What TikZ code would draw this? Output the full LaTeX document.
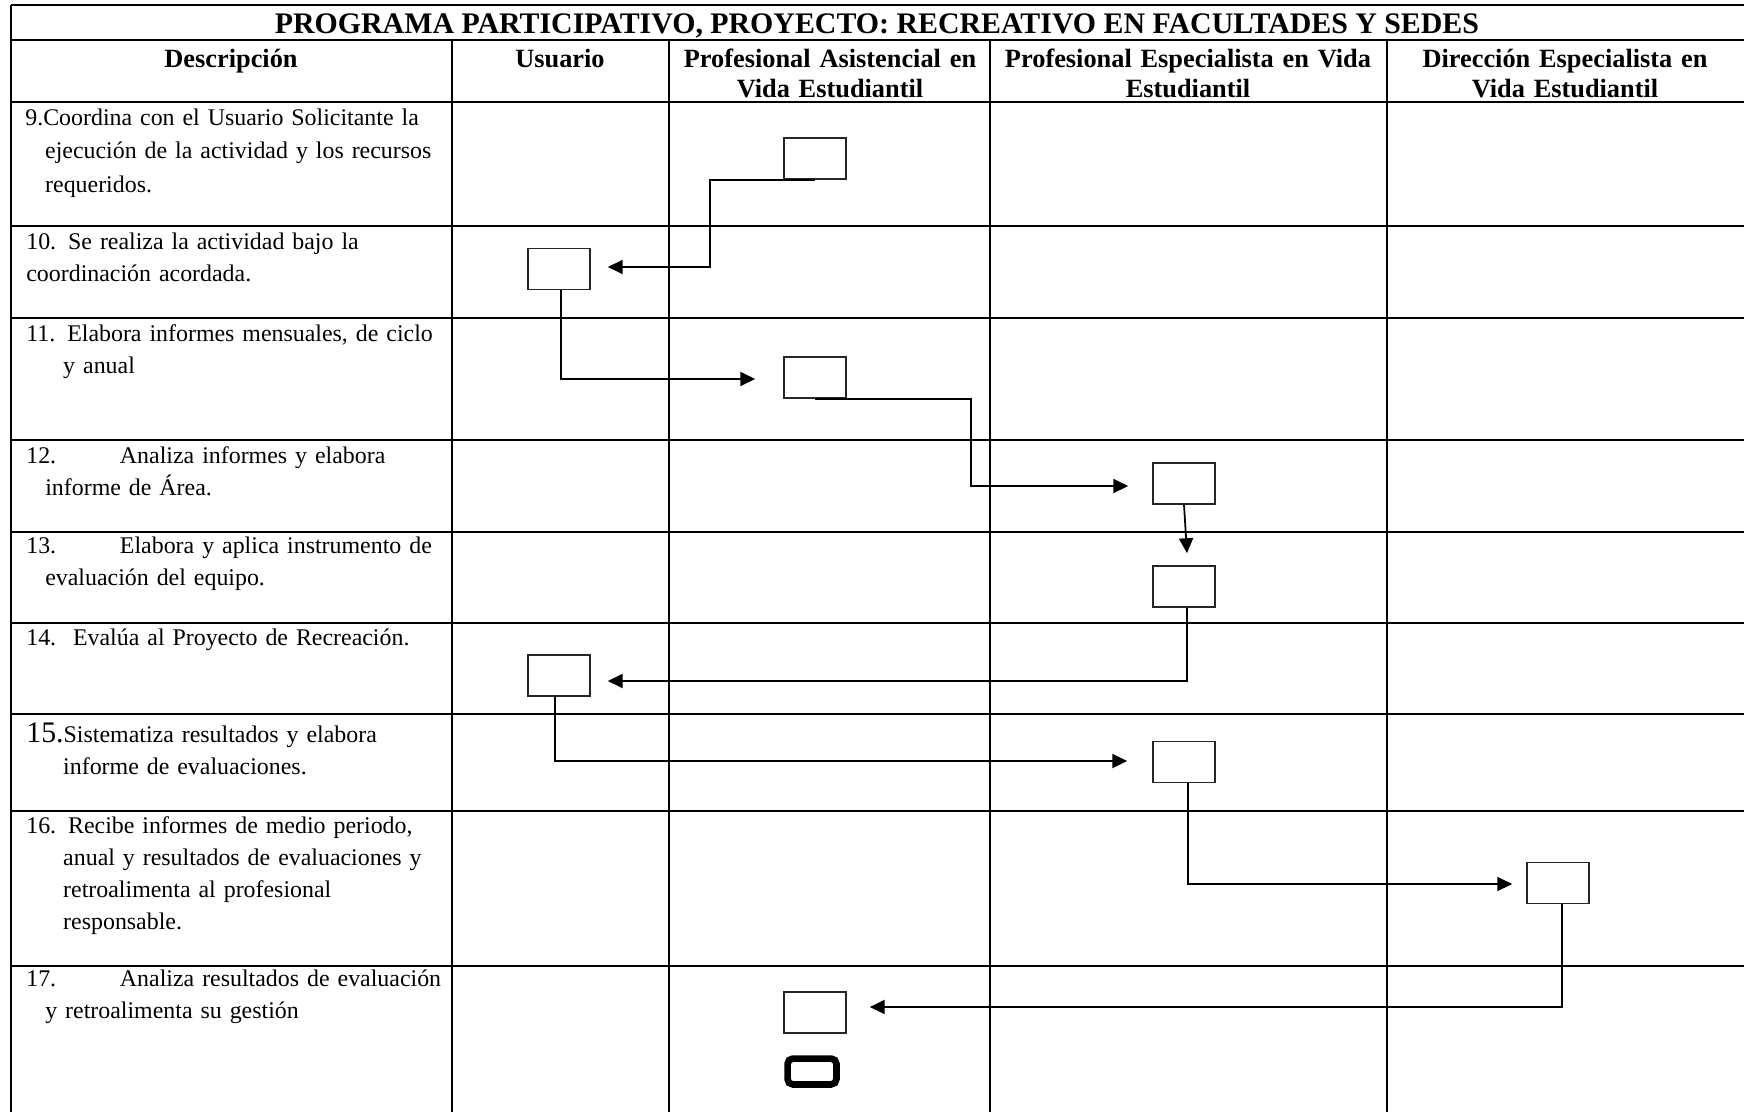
\documentclass[tikz,border=0pt]{standalone}
\usepackage{fontspec}
\setmainfont{Liberation Serif}
\usetikzlibrary{arrows.meta,calc}

\begin{document}
\begin{tikzpicture}[x=0.02cm,y=-0.02cm,>={Triangle[length=8.5pt,width=8pt]},
  grid/.style={line width=1.1pt},
  actbox/.style={draw=black!85,line width=0.8pt,minimum width=35.4pt,minimum height=23.5pt,inner sep=0pt},
  endbox/.style={draw,line width=3.8pt,rounded corners=3pt,minimum width=27.8pt,minimum height=14.7pt,inner sep=0pt},
  flow/.style={->,line width=1pt},
  head/.style={anchor=base,font=\fontsize{15}{17.6}\selectfont\bfseries,text width=9cm,align=center,inner sep=0pt},
  desc/.style={anchor=base west,font=\fontsize{13.6}{18.4}\selectfont,text width=10cm,align=left,inner sep=0pt}]
  \useasboundingbox (0,0) rectangle (1744,1112);

  % table
  \foreach \y in {5,40,102,226,318,440,532,623,714,811,966}
    \draw[grid] (11,\y) -- (1744,\y);
  \draw[grid] (11,5) -- (11,1112);
  \foreach \x in {452,669,990,1387}
    \draw[grid] (\x,40) -- (\x,1112);

  % headings
  \node[anchor=base,inner sep=0pt,font=\fontsize{17}{18}\selectfont\bfseries] (title) at (877,33)
    {PROGRAMA PARTICIPATIVO, PROYECTO: RECREATIVO EN FACULTADES Y SEDES};
  \node[head] (hdesc) at (231,67) {Descripción};
  \node[head] (husu) at (560,67) {Usuario};
  \node[head] (hasis) at (830,67) {Profesional Asistencial en\\Vida Estudiantil};
  \node[head] (hesp) at (1188,67) {Profesional Especialista en Vida\\Estudiantil};
  \node[head] (hdir) at (1565,67) {Dirección Especialista en\\Vida Estudiantil};

  % descriptions
  \node[desc,font=\fontsize{13.6}{19.2}\selectfont] (d9) at (25,125) {9.Coordina con el Usuario Solicitante la\\
    \hspace*{11.3pt}ejecución de la actividad y los recursos\\
    \hspace*{11.3pt}requeridos.};
  \node[desc] (d10) at (26,249) {10. Se realiza la actividad bajo la\\coordinación acordada.};
  \node[desc] (d11) at (26,341) {11. Elabora informes mensuales, de ciclo\\
    \hspace*{21pt}y anual};
  \node[desc] (d12) at (26,463) {\makebox[53.3pt][l]{12.}Analiza informes y elabora\\
    \hspace*{10.8pt}informe de Área.};
  \node[desc] (d13) at (26,553) {\makebox[53.3pt][l]{13.}Elabora y aplica instrumento de\\
    \hspace*{10.8pt}evaluación del equipo.};
  \node[desc] (d14) at (26,645) {\makebox[26.6pt][l]{14.}Evalúa al Proyecto de Recreación.};
  \node[desc] (d15) at (26,742) {{\fontsize{17}{17}\selectfont 15.}Sistematiza resultados y elabora\\
    \hspace*{21pt}informe de evaluaciones.};
  \node[desc] (d16) at (26,833) {16. Recibe informes de medio periodo,\\
    \hspace*{21pt}anual y resultados de evaluaciones y\\
    \hspace*{21pt}retroalimenta al profesional\\
    \hspace*{21pt}responsable.};
  \node[desc] (d17) at (26,986) {\makebox[53.3pt][l]{17.}Analiza resultados de evaluación\\
    \hspace*{10.8pt}y retroalimenta su gestión};

  % activity boxes
  \node[actbox] (A) at (815,158.5) {};
  \node[actbox] (B) at (559,269) {};
  \node[actbox] (C) at (815,377.5) {};
  \node[actbox] (D) at (1184,483.5) {};
  \node[actbox] (E) at (1184,586.5) {};
  \node[actbox] (F) at (559,675.5) {};
  \node[actbox] (G) at (1184,762) {};
  \node[actbox] (H) at (1558,883) {};
  \node[actbox] (I) at (815,1012.5) {};
  \node[endbox] (fin) at (812,1071.5) {};

  % flow
  \draw[flow] (A.south) -- ++(-105,0) |- ($(B.east)+(17,-2)$);
  \draw[flow] ($(B.south)+(2,0)$) |- ($(C.west)+(-28,1.5)$);
  \draw[flow] (C.south) -- ++(156,0) |- ($(D.west)+(-24,2.5)$);
  \draw[flow] (D.south) -- ($(E.north)+(3,-12)$);
  \draw[flow] ($(E.south)+(3,0)$) |- ($(F.east)+(17,5.5)$);
  \draw[flow] ($(F.south)+(-4,0)$) |- ($(G.west)+(-25,-1)$);
  \draw[flow] ($(G.south)+(4,0)$) |- ($(H.west)+(-14,1)$);
  \draw[flow] ($(H.south)+(4,0)$) |- ($(I.east)+(23,-5.5)$);
\end{tikzpicture}
\end{document}
